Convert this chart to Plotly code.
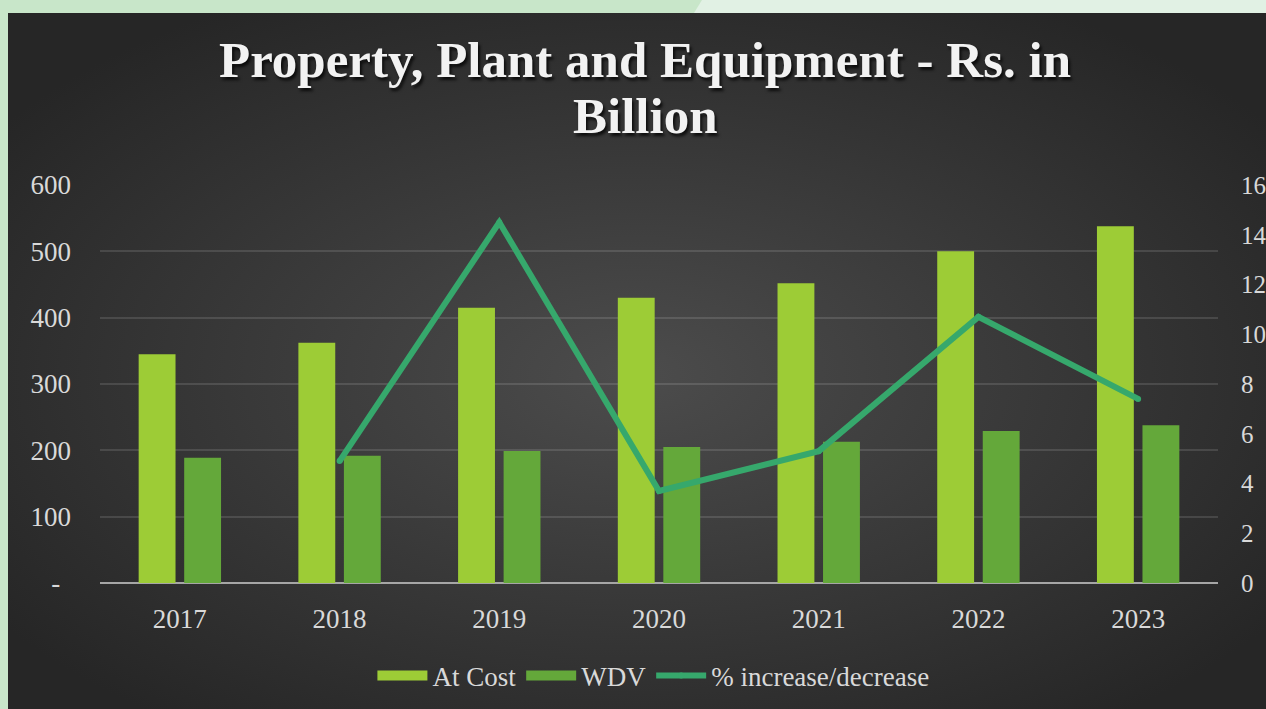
import base64
import plotly.graph_objects as go

# Property, plant and equipment (Rs. in Billion)
years = ["2017", "2018", "2019", "2020", "2021", "2022", "2023"]
at_cost = [345, 362, 415, 430, 452, 500, 538]
wdv = [189, 192, 199, 205, 213, 229, 238]
pct_change = [None, 4.9, 14.5, 3.7, 5.3, 10.7, 7.4]

left_ticks = [0, 100, 200, 300, 400, 500, 600]
left_tick_text = ["-\u2009\u2009", "100", "200", "300", "400", "500", "600"]
right_ticks = [0, 2, 4, 6, 8, 10, 12, 14, 16]
title_lines = ["Property, Plant and Equipment - Rs. in", "Billion"]

W, H = 1266, 709
M_L, M_R, M_T, M_B = 100, 48, 185, 126
PW, PH = W - M_L - M_R, H - M_T - M_B

FONT = "Liberation Serif"
FS = 27
TEXT = "#d9d9d9"
COST_C, WDV_C, LINE_C = "#9dcc36", "#64a83a", "#36a86c"


def py(px_from_top):
    """Paper y for a pixel row measured from the top of the figure."""
    return (H - M_B - px_from_top) / PH


# backdrop: green page strip with a dark radial-gradient panel
svg = f"""<svg xmlns='http://www.w3.org/2000/svg' width='{W}' height='{H}' viewBox='0 0 {W} {H}' preserveAspectRatio='none'>
<defs><radialGradient id='g' cx='50%' cy='52%' r='62%'>
<stop offset='0' stop-color='#4c4c4c'/><stop offset='1' stop-color='#262626'/></radialGradient></defs>
<rect width='{W}' height='{H}' fill='#c8e6c9'/>
<polygon points='702,0 {W},0 {W},13 694,13' fill='#e1f1e4'/>
<rect x='8' y='13' width='{W-8}' height='{H-13}' fill='url(#g)'/>
</svg>"""
bg_src = "data:image/svg+xml;base64," + base64.b64encode(svg.encode()).decode()

fig = go.Figure()
fig.add_trace(go.Bar(x=years, y=at_cost, name="At Cost", marker_color=COST_C,
                     marker_line_width=0, legendgroup="cost", showlegend=False))
fig.add_trace(go.Bar(x=years, y=wdv, name="WDV", marker_color=WDV_C,
                     marker_line_width=0, legendgroup="wdv", showlegend=False))
# wide rectangular legend keys for the two bar series
for nm, col, grp in [("At Cost", COST_C, "cost"), ("WDV", WDV_C, "wdv")]:
    fig.add_trace(go.Scatter(x=[None], y=[None], name=nm, mode="lines",
                             line=dict(color=col, width=14), legendgroup=grp,
                             hoverinfo="skip"))
fig.add_trace(go.Scatter(x=years, y=pct_change, name="% increase/decrease", yaxis="y2",
                         mode="lines+markers", line=dict(color=LINE_C, width=6),
                         marker=dict(color=LINE_C, size=6), connectgaps=False))

title_font = dict(family="Liberation Serif", size=51, color="#f2f2f2", weight="bold",
                  shadow="2px 3px 3px rgba(0,0,0,0.75)")
annotations = [
    dict(text=title_lines[0], x=0.4875, y=py(60), xref="paper", yref="paper",
         xanchor="center", yanchor="middle", showarrow=False, font=title_font),
    dict(text=title_lines[1], x=0.4875, y=py(116), xref="paper", yref="paper",
         xanchor="center", yanchor="middle", showarrow=False, font=title_font),
]

fig.update_layout(
    template="none",
    width=W, height=H,
    margin=dict(l=M_L, r=M_R, t=M_T, b=M_B, pad=0, autoexpand=False),
    paper_bgcolor="#c8e6c9",
    plot_bgcolor="rgba(0,0,0,0)",
    barmode="group", bargap=0.43, bargroupgap=0.19,
    annotations=annotations,
    font=dict(family=FONT, size=FS, color=TEXT),
    xaxis=dict(showgrid=False, showline=False, zeroline=False, ticks="", automargin=False,
               ticklabelstandoff=17, tickfont=dict(family=FONT, size=FS, color=TEXT)),
    yaxis=dict(range=[0, 600], tickvals=left_ticks, ticktext=left_tick_text, automargin=False,
               showgrid=True, gridcolor="rgba(255,255,255,0.12)", gridwidth=2,
               zeroline=True, zerolinecolor="#a6a6a6", zerolinewidth=2,
               showline=False, ticks="", ticklabelstandoff=28,
               tickfont=dict(family=FONT, size=FS, color=TEXT)),
    yaxis2=dict(range=[0, 16], tickvals=right_ticks, overlaying="y", side="right",
                automargin=False, showgrid=False, zeroline=False, showline=False, ticks="",
                ticklabelstandoff=22, tickfont=dict(family=FONT, size=25, color=TEXT)),
    legend=dict(orientation="h", x=0.495, xanchor="center", y=py(676), yanchor="middle",
                bgcolor="rgba(0,0,0,0)", font=dict(family=FONT, size=FS, color=TEXT),
                itemwidth=50, traceorder="normal"),
    showlegend=True,
    images=[dict(source=bg_src, xref="paper", yref="paper",
                 x=-M_L / PW, y=py(0), sizex=W / PW, sizey=H / PH,
                 xanchor="left", yanchor="top", sizing="stretch", layer="below")],
)

fig.write_html("out.html")
